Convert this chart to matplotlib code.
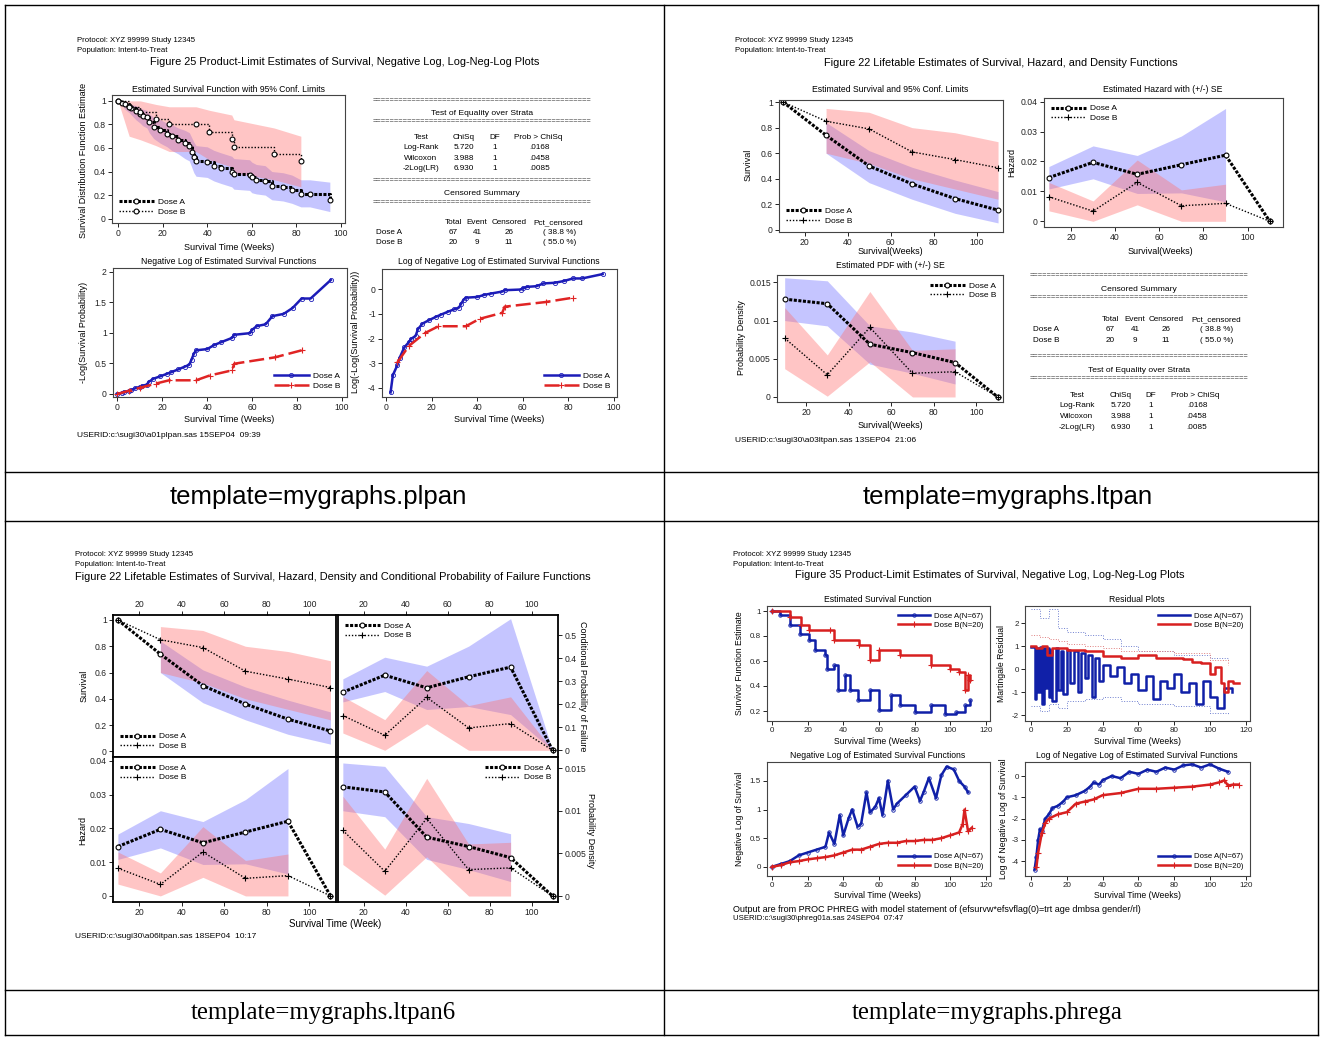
import matplotlib
matplotlib.use('Agg')
import matplotlib.pyplot as plt
from matplotlib.lines import Line2D
from matplotlib.ticker import FuncFormatter
import numpy as np

plt.rcParams['font.family'] = ['Liberation Sans', 'DejaVu Sans']

W, H = 1323, 1040

# ---------------- data: plpan (product-limit) ----------------
km_a_t = [0, 2, 3, 5, 6, 8, 10, 11, 13, 14, 16, 19, 22, 24, 27, 30, 32, 33, 34, 35,
          40, 43, 46, 51, 52, 59, 60, 62, 66, 69, 74, 78, 82, 86, 95]
km_a_s = [1, .985, .97, .955, .94, .91, .89, .875, .86, .82, .78, .75, .72, .70, .67, .64, .62, .57, .52, .49,
          .48, .45, .43, .40, .38, .37, .35, .33, .32, .28, .27, .245, .21, .21, .155]
km_a_lo = [1, .96, .93, .90, .88, .84, .81, .79, .77, .73, .68, .64, .61, .58, .55, .51, .49, .44, .39, .36,
           .35, .32, .30, .27, .25, .24, .22, .21, .20, .16, .15, .13, .10, .10, .06]
km_a_hi = [1, 1.0, .99, .98, .97, .96, .94, .93, .92, .89, .86, .84, .81, .80, .77, .75, .73, .69, .65, .62,
           .61, .58, .56, .53, .51, .50, .48, .46, .45, .40, .39, .37, .33, .33, .31]
km_b_t = [0, 5, 10, 17, 23, 35, 41, 51, 52, 70, 82]
km_b_s = [1, .95, .905, .845, .80, .80, .74, .68, .61, .55, .49]
km_b_lo = [1, .70, .67, .62, .57, .57, .50, .44, .39, .33, .27]
km_b_hi = [1, 1.0, 1.0, .97, .95, .95, .92, .88, .84, .77, .70]

test_names = ['Log-Rank', 'Wilcoxon', '-2Log(LR)']
test_chisq = ['5.720', '3.988', '6.930']
test_df = ['1', '1', '1']
test_prob = ['.0168', '.0458', '.0085']
cens_groups = ['Dose A', 'Dose B']
cens_total = ['67', '20']
cens_event = ['41', '9']
cens_cens = ['26', '11']
cens_pct = ['( 38.8 %)', '( 55.0 %)']

# ---------------- data: lifetable ----------------
lt_mid = [10, 30, 50, 70, 90, 110]
lt_surv_a = [1.0, 0.74, 0.50, 0.36, 0.245, 0.155]
lt_surv_b = [1.0, 0.85, 0.79, 0.61, 0.55, 0.486]
lt_surv_band_x = [30, 50, 70, 90, 110]
lt_surv_a_lo = [0.60, 0.37, 0.24, 0.13, 0.055]
lt_surv_a_hi = [0.84, 0.62, 0.49, 0.39, 0.30]
lt_surv_b_lo = [0.60, 0.52, 0.40, 0.32, 0.24]
lt_surv_b_hi = [0.95, 0.92, 0.80, 0.76, 0.69]

lt_haz_a = [0.0146, 0.0197, 0.0157, 0.0189, 0.0221, 0.0]
lt_haz_b = [0.0082, 0.0034, 0.0130, 0.0052, 0.0060, 0.0]
lt_band_x = [10, 30, 50, 70, 90]
lt_haz_a_lo = [0.0108, 0.0142, 0.0093, 0.0095, 0.0065]
lt_haz_a_hi = [0.0183, 0.0252, 0.0220, 0.0285, 0.0377]
lt_haz_b_lo = [0.0035, 0.0, 0.0055, 0.0, 0.0]
lt_haz_b_hi = [0.0130, 0.0068, 0.0205, 0.0105, 0.0124]

lt_pdf_a = [0.0128, 0.0122, 0.0069, 0.0058, 0.0045, 0.0]
lt_pdf_b = [0.0077, 0.0029, 0.0091, 0.0031, 0.0033, 0.0]
lt_pdf_a_lo = [0.0100, 0.0093, 0.0043, 0.0031, 0.0017]
lt_pdf_a_hi = [0.0156, 0.0152, 0.0093, 0.0085, 0.0073]
lt_pdf_b_lo = [0.0037, 0.0001, 0.0046, 0.0, 0.0]
lt_pdf_b_hi = [0.0117, 0.0055, 0.0138, 0.0061, 0.0063]

lt_cp_a = [0.252, 0.326, 0.271, 0.319, 0.361, 0.0]
lt_cp_b = [0.151, 0.065, 0.230, 0.097, 0.116, 0.0]
lt_cp_a_lo = [0.21, 0.255, 0.177, 0.19, 0.155, 0.0]
lt_cp_a_hi = [0.31, 0.404, 0.365, 0.452, 0.571, 0.0]
lt_cp_b_lo = [0.075, 0.0, 0.115, 0.0, 0.0, 0.0]
lt_cp_b_hi = [0.233, 0.133, 0.346, 0.194, 0.232, 0.0]

# ---------------- data: phreg ----------------
ph_surv_a_t = [0, 4.5, 10, 15.7, 21, 24, 30, 31, 35, 37, 41, 44, 48, 55, 60, 67, 72, 80, 89, 97, 103, 108, 111]
ph_surv_a = [1, .97, .89, .82, .77, .69, .65, .54, .57, .37, .49, .37, .29, .37, .21, .33, .25, .19, .25, .18, .19, .25, .29]
ph_surv_b_t = [0, 10, 16, 21, 32.5, 35, 49, 55, 60, 72, 89, 100, 105, 108, 110, 111]
ph_surv_b = [1, .95, .89, .85, .85, .77, .73, .61, .69, .65, .57, .54, .51, .37, .49, .45]

ph_res_a_t = [0, 2, 3, 4, 5, 6, 7, 8, 9, 10, 11, 12, 14, 15, 17, 18, 20, 22, 24, 26, 28, 30, 32, 34, 36, 38,
              40, 44, 48, 52, 56, 60, 64, 68, 72, 76, 80, 84, 88, 92, 96, 100, 104, 108, 112]
ph_res_a = [0.95, -1.3, 0.9, -1.0, 0.95, -1.5, 0.9, -0.8, 0.9, -1.2, 0.85, -1.4, 0.9, -0.9, 0.8, -1.1, 0.85,
            -0.6, 0.8, -1.0, 0.7, -0.4, 0.6, -1.2, 0.5, -0.5, 0.2, -0.3, 0.1, -0.6, -0.2, -0.9, -0.3, -1.3,
            -0.5, -0.8, -0.2, -1.0, -0.6, -1.5, -0.5, -1.2, -1.7, -0.8, -1.0]
ph_res_b_t = [0, 3, 6, 9, 12, 20, 30, 40, 50, 60, 70, 80, 85, 90, 95, 100, 103, 106, 108, 110, 113, 116]
ph_res_b = [1.0, 0.9, 1.0, 0.6, 0.9, 0.85, 0.8, 0.55, 0.5, 0.6, 0.5, 0.5, 0.45, 0.3, 0.25, -0.2, 0.1, -0.6,
            -1.0, -0.5, -0.6, -0.6]
ph_env_t = [0, 5, 10, 15, 20, 30, 40, 50, 60, 80, 100, 110]
ph_env_a_hi = [2.6, 2.2, 2.6, 1.8, 1.6, 1.5, 1.3, 1.0, 0.8, 0.6, 0.5, 0.3]
ph_env_a_lo = [-1.6, -1.8, -1.5, -1.7, -1.4, -1.3, -1.2, -1.4, -1.5, -1.6, -1.9, -2.0]
ph_env_b_hi = [1.5, 1.4, 1.3, 1.2, 1.1, 1.0, 0.9, 0.8, 0.8, 0.7, 0.4, 0.2]

ph_nl_a_t = [0, 5, 10, 15, 20, 25, 30, 32, 35, 38, 40, 43, 45, 48, 50, 53, 55, 58, 60, 62, 65, 68, 70, 75,
             80, 83, 85, 88, 92, 95, 98, 102, 105, 108, 110]
ph_nl_a = [0, .05, .1, .2, .25, .3, .35, .6, .4, .9, .55, .85, 1.0, .7, .75, 1.3, .95, 1.05, 1.2, .9, 1.5,
           1.0, 1.1, 1.25, 1.4, 1.15, 1.3, 1.55, 1.2, 1.6, 1.75, 1.7, 1.5, 1.4, 1.3]
ph_nl_b_t = [0, 5, 10, 15, 20, 25, 30, 35, 40, 45, 50, 55, 60, 65, 70, 75, 80, 85, 90, 95, 100, 105, 107,
             108, 110, 112]
ph_nl_b = [0, .03, .08, .1, .13, .15, .17, .2, .25, .3, .3, .35, .4, .42, .42, .45, .45, .47, .47, .5, .55,
           .6, .75, 1.0, .62, .68]

ph_ll_a_t = [2, 3, 4, 5, 6, 8, 10, 12, 15, 18, 20, 25, 30, 33, 35, 38, 40, 45, 50, 55, 60, 65, 70, 75, 80,
             85, 90, 95, 100, 105, 110]
ph_ll_a = [-4.4, -3.8, -3.0, -2.5, -2.6, -2.0, -1.8, -1.5, -1.4, -1.2, -1.0, -0.9, -0.7, -0.5, -0.3, -0.4,
           -0.2, 0.0, -0.1, 0.2, 0.1, 0.3, 0.2, 0.4, 0.3, 0.5, 0.55, 0.4, 0.55, 0.35, 0.2]
ph_ll_b_t = [3, 4, 6, 8, 10, 15, 20, 25, 30, 35, 40, 50, 60, 70, 80, 90, 100, 105, 108, 110, 113, 116]
ph_ll_b = [-4.3, -3.6, -2.7, -2.2, -2.0, -1.8, -1.7, -1.3, -1.2, -1.1, -0.9, -0.8, -0.6, -0.6, -0.55, -0.5,
           -0.4, -0.3, -0.2, -0.45, -0.4, -0.4]

BLUE = '#1c1cb8'
RED = '#e02424'
BAND_BLUE = '#7070ff'
BAND_RED = '#ff7070'

fig = plt.figure(figsize=(W / 100, H / 100), dpi=100)


def px_axes(l, t, r, b):
    return fig.add_axes([l / W, 1 - b / H, (r - l) / W, (b - t) / H])


def ptext(x, y, s, size=6.2, ha='left', va='center', **kw):
    return fig.text(x / W, 1 - y / H, s, fontsize=size, ha=ha, va=va, **kw)


def hline(y, x0, x1, lw=1.0):
    fig.add_artist(Line2D([x0 / W, x1 / W], [1 - y / H, 1 - y / H], color='black', lw=lw))


def vline(x, y0, y1, lw=1.0):
    fig.add_artist(Line2D([x / W, x / W], [1 - y0 / H, 1 - y1 / H], color='black', lw=lw))


def frame(ax, xlim, ylim, xticks, yticks, lw=0.8, color='#444444', size=6.2):
    ax.set_xlim(*xlim)
    ax.set_ylim(*ylim)
    ax.set_xticks(xticks)
    ax.set_yticks(yticks)
    fmt = FuncFormatter(lambda v, p: '%g' % round(v, 6))
    ax.xaxis.set_major_formatter(fmt)
    ax.yaxis.set_major_formatter(fmt)
    for sp in ax.spines.values():
        sp.set_linewidth(lw)
        sp.set_color(color)
    ax.tick_params(labelsize=size, length=3, width=0.7, colors='#222222', pad=1.5)


def line_a(ax, x, y, marker='o', **kw):
    return ax.plot(x, y, color='black', lw=2.2, ls=(0, (1.0, 0.5)), marker=marker, ms=3.5,
                   mfc='white', mec='black', mew=0.8, **kw)[0]


def line_b(ax, x, y, marker='+', **kw):
    return ax.plot(x, y, color='black', lw=1.0, ls=(0, (1, 1.3)), marker=marker, ms=4.5 if marker == '+' else 3.5,
                   mfc='white', mec='black', mew=0.8, **kw)[0]


def legend(ax, handles, labels, loc, size=6):
    ax.legend(handles, labels, loc=loc, frameon=False, fontsize=size, handlelength=4.2, borderaxespad=0.4,
              labelspacing=0.25, handletextpad=0.5, numpoints=1)


def header(x, y, title, tx, ty):
    ptext(x, y, 'Protocol: XYZ 99999 Study 12345', size=5.6)
    ptext(x, y + 10, 'Population: Intent-to-Treat', size=5.6)
    ptext(tx, ty, title, size=7.9, ha='center')


def eq_table(cx, rows):
    for kind, y, payload in rows:
        if kind == 'eq':
            ptext(cx, y, '=' * 50, size=5.4, ha='center', color='#333333')
        elif kind == 'title':
            ptext(cx, y + 3, payload, size=6.1, ha='center', va='baseline')
        else:
            for xx, s, ha in payload:
                ptext(xx, y + 3, s, size=5.9, ha=ha, va='baseline')


# ---------------- grid / captions ----------------
for yy in [5, 472, 521, 990, 1035]:
    hline(yy, 5, 1318)
for xx in [5, 664, 1318]:
    vline(xx, 5, 1035)
ptext(318, 497, 'template=mygraphs.plpan', size=18.5, ha='center')
ptext(1008, 497, 'template=mygraphs.ltpan', size=18.5, ha='center')
ptext(323, 1013, 'template=mygraphs.ltpan6', size=17.8, ha='center', family=['Liberation Serif', 'DejaVu Serif'])
ptext(987, 1013, 'template=mygraphs.phrega', size=17.8, ha='center', family=['Liberation Serif', 'DejaVu Serif'])

# =============== Q1: plpan ===============
header(77, 40, 'Figure 25 Product-Limit Estimates of Survival, Negative Log, Log-Neg-Log Plots', 345, 62)

ax = px_axes(112, 95, 345, 223)
ax.fill_between(km_a_t, km_a_lo, km_a_hi, color=BAND_BLUE, alpha=0.4, lw=0)
ax.fill_between(km_b_t, km_b_lo, km_b_hi, color=BAND_RED, alpha=0.4, lw=0)
ha_ = line_a(ax, km_a_t, km_a_s, drawstyle='steps-post')
hb_ = line_b(ax, km_b_t, km_b_s, marker='o', drawstyle='steps-post')
frame(ax, (-2.7, 101.8), (-0.037, 1.05), [0, 20, 40, 60, 80, 100], [0, 0.2, 0.4, 0.6, 0.8, 1])
legend(ax, [ha_, hb_], ['Dose A', 'Dose B'], 'lower left')
ptext(229, 89, 'Estimated Survival Function with 95% Conf. Limits', ha='center')
ptext(229, 247, 'Survival Time (Weeks)', size=6.5, ha='center')
ptext(83, 160, 'Survival Distribution Function Estimate', size=6.5, ha='center', rotation=90)

neglog_a = -np.log(np.array(km_a_s))
neglog_b = -np.log(np.array(km_b_s))
ax = px_axes(113, 268, 347, 397)
ha_ = ax.plot(km_a_t, neglog_a, color=BLUE, lw=1.8, marker='o', ms=3, mfc='none', mew=0.6)[0]
hb_ = ax.plot(km_b_t, neglog_b, color=RED, lw=1.8, ls=(0, (6, 2)), marker='+', ms=5, mew=0.8)[0]
frame(ax, (-1.96, 102.2), (-0.05, 2.06), [0, 20, 40, 60, 80, 100], [0, 0.5, 1, 1.5, 2])
legend(ax, [ha_, hb_], ['Dose A', 'Dose B'], 'lower right')
ptext(229, 262, 'Negative Log of Estimated Survival Functions', ha='center')
ptext(229, 420, 'Survival Time (Weeks)', size=6.5, ha='center')
ptext(83, 332, '-Log(Survival Probability)', size=6.5, ha='center', rotation=90)

ax = px_axes(382, 269, 617, 397)
ha_ = ax.plot(km_a_t[1:], np.log(neglog_a[1:]), color=BLUE, lw=1.8, marker='o', ms=3, mfc='none', mew=0.6)[0]
hb_ = ax.plot(km_b_t[1:], np.log(neglog_b[1:]), color=RED, lw=1.8, ls=(0, (6, 2)), marker='+', ms=5, mew=0.8)[0]
frame(ax, (-1.76, 101.3), (-4.38, 0.83), [0, 20, 40, 60, 80, 100], [-4, -3, -2, -1, 0])
legend(ax, [ha_, hb_], ['Dose A', 'Dose B'], 'lower right')
ptext(499, 262, 'Log of Negative Log of Estimated Survival Functions', ha='center')
ptext(499, 420, 'Survival Time (Weeks)', size=6.5, ha='center')
ptext(356, 332, 'Log(-Log(Survival Probability))', size=6.5, ha='center', rotation=90)
ptext(77, 435, 'USERID:c:\\sugi30\\a01plpan.sas 15SEP04  09:39', size=6)

rows = [('eq', 101, None), ('title', 112, 'Test of Equality over Strata'), ('eq', 122, None),
        ('row', 136, [(421, 'Test', 'center'), (464, 'ChiSq', 'center'), (495, 'DF', 'center'),
                      (538, 'Prob > ChiSq', 'center')])]
for i in range(3):
    rows.append(('row', 146 + 10.5 * i, [(421, test_names[i], 'center'), (464, test_chisq[i], 'center'),
                                          (495, test_df[i], 'center'), (540, test_prob[i], 'center')]))
rows += [('eq', 181, None), ('title', 192, 'Censored Summary'), ('eq', 203, None),
         ('row', 221, [(453, 'Total', 'center'), (477, 'Event', 'center'), (509, 'Censored', 'center'),
                       (558, 'Pct_censored', 'center')])]
for i in range(2):
    rows.append(('row', 231 + 10.5 * i, [(376, cens_groups[i], 'left'), (453, cens_total[i], 'center'),
                                          (477, cens_event[i], 'center'), (509, cens_cens[i], 'center'),
                                          (560, cens_pct[i], 'center')]))
eq_table(482, rows)

# =============== Q2: ltpan ===============
header(735, 40, 'Figure 22 Lifetable Estimates of Survival, Hazard, and Density Functions', 1001, 63)

ax = px_axes(779, 100, 1003, 232)
ax.fill_between(lt_surv_band_x, lt_surv_a_lo, lt_surv_a_hi, color=BAND_BLUE, alpha=0.4, lw=0)
ax.fill_between(lt_surv_band_x, lt_surv_b_lo, lt_surv_b_hi, color=BAND_RED, alpha=0.4, lw=0)
ha_ = line_a(ax, lt_mid, lt_surv_a)
hb_ = line_b(ax, lt_mid, lt_surv_b)
frame(ax, (8.1, 112.3), (-0.016, 1.016), [20, 40, 60, 80, 100], [0, 0.2, 0.4, 0.6, 0.8, 1])
legend(ax, [ha_, hb_], ['Dose A', 'Dose B'], 'lower left')
ptext(890, 90, 'Estimated Survival and 95% Conf. Limits', ha='center')
ptext(890, 251, 'Survival(Weeks)', size=6.5, ha='center')
ptext(748, 165, 'Survival', size=6.5, ha='center', rotation=90)

ax = px_axes(1044, 98, 1283, 227)
ax.fill_between(lt_band_x, lt_haz_a_lo, lt_haz_a_hi, color=BAND_BLUE, alpha=0.4, lw=0)
ax.fill_between(lt_band_x, lt_haz_b_lo, lt_haz_b_hi, color=BAND_RED, alpha=0.4, lw=0)
ha_ = line_a(ax, lt_mid, lt_haz_a)
hb_ = line_b(ax, lt_mid, lt_haz_b)
frame(ax, (7.8, 116), (-0.0019, 0.0412), [20, 40, 60, 80, 100], [0, 0.01, 0.02, 0.03, 0.04])
legend(ax, [ha_, hb_], ['Dose A', 'Dose B'], 'upper left')
ptext(1163, 90, 'Estimated Hazard with (+/-) SE', ha='center')
ptext(1160, 251, 'Survival(Weeks)', size=6.5, ha='center')
ptext(1012, 162, 'Hazard', size=6.5, ha='center', rotation=90)

ax = px_axes(777, 275, 1003, 402)
ax.fill_between(lt_band_x, lt_pdf_a_lo, lt_pdf_a_hi, color=BAND_BLUE, alpha=0.4, lw=0)
ax.fill_between(lt_band_x, lt_pdf_b_lo, lt_pdf_b_hi, color=BAND_RED, alpha=0.4, lw=0)
ha_ = line_a(ax, lt_mid, lt_pdf_a)
hb_ = line_b(ax, lt_mid, lt_pdf_b)
frame(ax, (6.4, 112.5), (-0.00066, 0.01596), [20, 40, 60, 80, 100], [0, 0.005, 0.01, 0.015])
legend(ax, [ha_, hb_], ['Dose A', 'Dose B'], 'upper right')
ptext(890, 266, 'Estimated PDF with (+/-) SE', ha='center')
ptext(890, 426, 'Survival(Weeks)', size=6.5, ha='center')
ptext(741, 338, 'Probability Density', size=6.5, ha='center', rotation=90)
ptext(735, 441, 'USERID:c:\\sugi30\\a03ltpan.sas 13SEP04  21:06', size=6)

rows = [('eq', 276, None), ('title', 288, 'Censored Summary'), ('eq', 298, None),
        ('row', 318, [(1110, 'Total', 'center'), (1135, 'Event', 'center'), (1166, 'Censored', 'center'),
                      (1216, 'Pct_censored', 'center')])]
for i in range(2):
    rows.append(('row', 328 + 10.5 * i, [(1033, cens_groups[i], 'left'), (1110, cens_total[i], 'center'),
                                          (1135, cens_event[i], 'center'), (1166, cens_cens[i], 'center'),
                                          (1217, cens_pct[i], 'center')]))
rows += [('eq', 357, None), ('title', 369, 'Test of Equality over Strata'), ('eq', 379, None),
         ('row', 394, [(1077, 'Test', 'center'), (1121, 'ChiSq', 'center'), (1151, 'DF', 'center'),
                       (1195, 'Prob > ChiSq', 'center')])]
for i in range(3):
    rows.append(('row', 404 + 10.8 * i, [(1077, test_names[i], 'center'), (1121, test_chisq[i], 'center'),
                                          (1151, test_df[i], 'center'), (1197, test_prob[i], 'center')]))
eq_table(1139, rows)

# =============== Q3: ltpan6 ===============
header(75, 554, 'Figure 22 Lifetable Estimates of Survival, Hazard, Density and Conditional Probability of '
                'Failure Functions', 333, 577)
xl6 = (7.7, 112.6)
xt6 = [20, 40, 60, 80, 100]

ax = px_axes(113, 615, 336, 757)
ax.fill_between(lt_surv_band_x, lt_surv_a_lo, lt_surv_a_hi, color=BAND_BLUE, alpha=0.4, lw=0)
ax.fill_between(lt_surv_band_x, lt_surv_b_lo, lt_surv_b_hi, color=BAND_RED, alpha=0.4, lw=0)
ha_ = line_a(ax, lt_mid, lt_surv_a)
hb_ = line_b(ax, lt_mid, lt_surv_b)
frame(ax, xl6, (-0.043, 1.038), xt6, [0, 0.2, 0.4, 0.6, 0.8, 1], lw=1.3, color='black')
ax.xaxis.tick_top()
legend(ax, [ha_, hb_], ['Dose A', 'Dose B'], 'lower left')

ax = px_axes(338, 615, 558, 757)
ax.fill_between(lt_mid, lt_cp_a_lo, lt_cp_a_hi, color=BAND_BLUE, alpha=0.4, lw=0)
ax.fill_between(lt_mid, lt_cp_b_lo, lt_cp_b_hi, color=BAND_RED, alpha=0.4, lw=0)
ha_ = line_a(ax, lt_mid, lt_cp_a)
hb_ = line_b(ax, lt_mid, lt_cp_b)
frame(ax, xl6, (-0.029, 0.587), xt6, [0, 0.1, 0.2, 0.3, 0.4, 0.5], lw=1.3, color='black')
ax.xaxis.tick_top()
ax.yaxis.tick_right()
legend(ax, [ha_, hb_], ['Dose A', 'Dose B'], 'upper left')

ax = px_axes(113, 757, 336, 902)
ax.fill_between(lt_band_x, lt_haz_a_lo, lt_haz_a_hi, color=BAND_BLUE, alpha=0.4, lw=0)
ax.fill_between(lt_band_x, lt_haz_b_lo, lt_haz_b_hi, color=BAND_RED, alpha=0.4, lw=0)
ha_ = line_a(ax, lt_mid, lt_haz_a)
hb_ = line_b(ax, lt_mid, lt_haz_b)
frame(ax, xl6, (-0.0018, 0.0411), xt6, [0, 0.01, 0.02, 0.03, 0.04], lw=1.3, color='black')
legend(ax, [ha_, hb_], ['Dose A', 'Dose B'], 'upper left')

ax = px_axes(338, 757, 558, 902)
ax.fill_between(lt_band_x, lt_pdf_a_lo, lt_pdf_a_hi, color=BAND_BLUE, alpha=0.4, lw=0)
ax.fill_between(lt_band_x, lt_pdf_b_lo, lt_pdf_b_hi, color=BAND_RED, alpha=0.4, lw=0)
ha_ = line_a(ax, lt_mid, lt_pdf_a)
hb_ = line_b(ax, lt_mid, lt_pdf_b)
frame(ax, xl6, (-0.0007, 0.0163), xt6, [0, 0.005, 0.01, 0.015], lw=1.3, color='black')
ax.yaxis.tick_right()
legend(ax, [ha_, hb_], ['Dose A', 'Dose B'], 'upper right')

ptext(84, 686, 'Survival', size=6.5, ha='center', rotation=90)
ptext(83, 830, 'Hazard', size=6.5, ha='center', rotation=90)
ptext(583, 686, 'Conditional Probability of Failure', size=6.5, ha='center', rotation=-90)
ptext(590, 830, 'Probability Density', size=6.5, ha='center', rotation=-90)
ptext(335, 924, 'Survival Time (Week)', size=7, ha='center')
ptext(75, 936, 'USERID:c:\\sugi30\\a06ltpan.sas 18SEP04  10:17', size=6)

# =============== Q4: phrega ===============
header(733, 555, 'Figure 35 Product-Limit Estimates of Survival, Negative Log, Log-Neg-Log Plots', 990, 575)
PBLUE = '#1020a8'
PRED = '#d82020'
xt4 = [0, 20, 40, 60, 80, 100, 120]
lab4 = ['Dose A(N=67)', 'Dose B(N=20)']

ax = px_axes(767, 606, 990, 721)
ha_ = ax.plot(ph_surv_a_t, ph_surv_a, color=PBLUE, lw=1.8, drawstyle='steps-post', marker='o', ms=2.5,
              mfc='none', mew=0.6)[0]
hb_ = ax.plot(ph_surv_b_t, ph_surv_b, color=PRED, lw=1.8, drawstyle='steps-post', marker='+', ms=4,
              mew=0.8)[0]
frame(ax, (-2.8, 122.3), (0.12, 1.04), xt4, [0.2, 0.4, 0.6, 0.8, 1], size=5.8)
legend(ax, [ha_, hb_], lab4, 'upper right', size=5.6)
ptext(878, 600, 'Estimated Survival Function', ha='center')
ptext(878, 741, 'Survival Time (Weeks)', size=6.2, ha='center')
ptext(740, 663, 'Survivor Function Estimate', size=6.2, ha='center', rotation=90)

ax = px_axes(1025, 606, 1250, 721)
ax.plot(ph_env_t, ph_env_a_hi, color='#7080d0', lw=0.7, ls=':', drawstyle='steps-post')
ax.plot(ph_env_t, ph_env_a_lo, color='#7080d0', lw=0.7, ls=':', drawstyle='steps-post')
ax.plot(ph_env_t, ph_env_b_hi, color='#e08080', lw=0.7, ls=':', drawstyle='steps-post')
ha_ = ax.plot(ph_res_a_t, ph_res_a, color=PBLUE, lw=1.8, drawstyle='steps-post')[0]
hb_ = ax.plot(ph_res_b_t, ph_res_b, color=PRED, lw=1.8, drawstyle='steps-post')[0]
frame(ax, (-3.35, 122.3), (-2.25, 2.74), xt4, [-2, -1, 0, 1, 2], size=5.8)
legend(ax, [ha_, hb_], lab4, 'upper right', size=5.6)
ptext(1137, 600, 'Residual Plots', ha='center')
ptext(1137, 741, 'Survival Time (Weeks)', size=6.2, ha='center')
ptext(1001, 663, 'Martingale Residual', size=6.2, ha='center', rotation=90)

ax = px_axes(767, 762, 990, 876)
ha_ = ax.plot(ph_nl_a_t, ph_nl_a, color=PBLUE, lw=1.8, marker='o', ms=2.5, mfc='none', mew=0.6)[0]
hb_ = ax.plot(ph_nl_b_t, ph_nl_b, color=PRED, lw=1.8, marker='+', ms=4, mew=0.8)[0]
frame(ax, (-2.8, 122.3), (-0.16, 1.83), xt4, [0, 0.5, 1, 1.5], size=5.8)
legend(ax, [ha_, hb_], lab4, 'lower right', size=5.6)
ptext(878, 755, 'Negative Log of Estimated Survival Functions', ha='center')
ptext(878, 895, 'Survival Time (Weeks)', size=6.2, ha='center')
ptext(740, 819, 'Negative Log of Survival', size=6.2, ha='center', rotation=90)

ax = px_axes(1025, 762, 1250, 876)
ha_ = ax.plot(ph_ll_a_t, ph_ll_a, color=PBLUE, lw=1.8, marker='o', ms=2.5, mfc='none', mew=0.6)[0]
hb_ = ax.plot(ph_ll_b_t, ph_ll_b, color=PRED, lw=1.8, marker='+', ms=4, mew=0.8)[0]
frame(ax, (-3.35, 122.3), (-4.7, 0.66), xt4, [-4, -3, -2, -1, 0], size=5.8)
legend(ax, [ha_, hb_], lab4, 'lower right', size=5.6)
ptext(1137, 755, 'Log of Negative Log of Estimated Survival Functions', ha='center')
ptext(1137, 895, 'Survival Time (Weeks)', size=6.2, ha='center')
ptext(1003, 819, 'Log of Negative Log of Survival', size=6.2, ha='center', rotation=90)

ptext(733, 909, 'Output are from PROC PHREG with model statement of '
                '(efsurvw*efsvflag(0)=trt age dmbsa gender/rl)', size=6.5)
ptext(733, 919, 'USERID:c:\\sugi30\\phreg01a.sas 24SEP04  07:47', size=5.6)

fig.savefig('out.png', dpi=100)
plt.close(fig)
